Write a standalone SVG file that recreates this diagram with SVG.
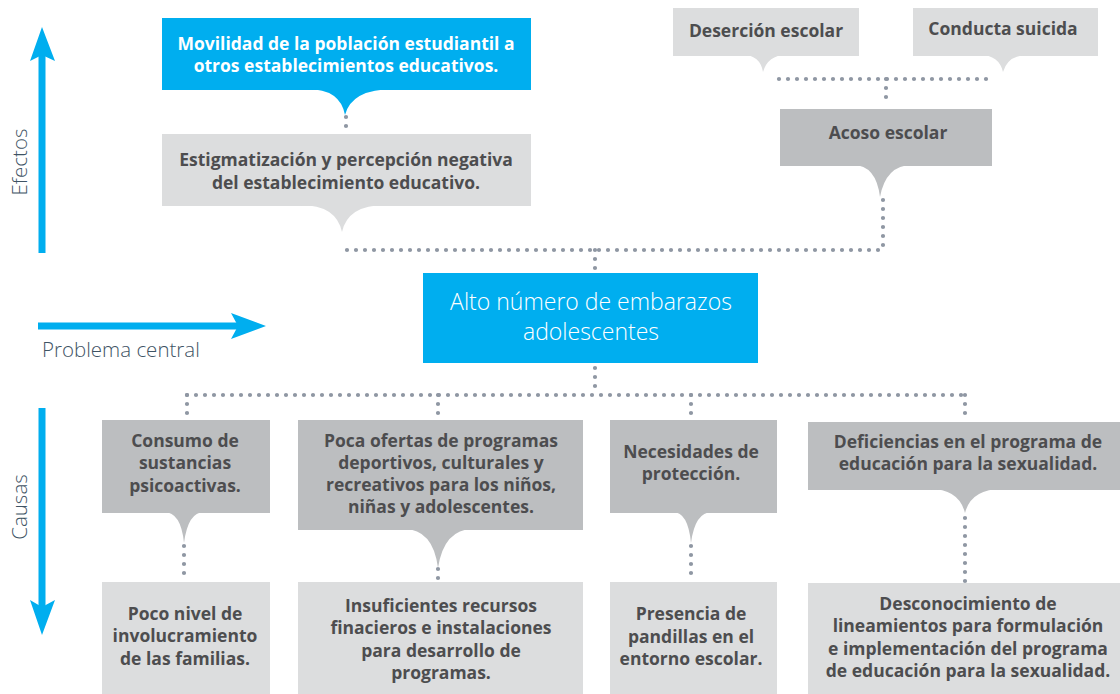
<svg xmlns="http://www.w3.org/2000/svg" width="1120" height="694" viewBox="0 0 1120 694">
<style>
.blue{fill:#00AEEF}
.lg{fill:#DCDDDE}
.dg{fill:#BCBEC0}
.t{font-family:"Open Sans","Lato","Liberation Sans",sans-serif;font-weight:700;font-size:17.5px;fill:#4D4D4F;text-anchor:middle}
.tw{fill:#FFFFFF}
.lab{font-family:"Open Sans","Lato","Liberation Sans",sans-serif;font-weight:300;font-size:20.5px;fill:#3E5364}
.ct{font-family:"Open Sans","Lato","Liberation Sans",sans-serif;font-weight:300;font-size:23px;fill:#FFFFFF;text-anchor:middle}
.dots{fill:none;stroke:#8F97A3;stroke-width:4.2;stroke-linecap:round;stroke-dasharray:0 9}
.ax{fill:none;stroke:#00AEEF;stroke-width:7}
</style>
<rect width="1120" height="694" fill="#FFFFFF"/>

<g id="axes">
  <line class="ax" x1="42" y1="253" x2="42" y2="55"/>
  <polygon fill="#00AEEF" points="42,27 55,61 42,55 30,61"/>
  <text class="lab" transform="translate(27,162) rotate(-90)" text-anchor="middle">Efectos</text>
  <line class="ax" x1="38" y1="326" x2="240" y2="326"/>
  <polygon fill="#00AEEF" points="266,326 231,313 238,326 231,339"/>
  <text class="lab" x="42" y="357">Problema central</text>
  <line class="ax" x1="42" y1="408" x2="42" y2="607"/>
  <polygon fill="#00AEEF" points="42,635 30,600 42,607 55,600"/>
  <text class="lab" transform="translate(27,507) rotate(-90)" text-anchor="middle">Causas</text>
</g>

<g id="connectors">
  <line class="dots" x1="346" y1="117" x2="346" y2="133"/>
  <line class="dots" x1="779" y1="79" x2="992" y2="79"/>
  <line class="dots" x1="886" y1="79" x2="886" y2="104"/>
  <line class="dots" x1="883" y1="200" x2="883" y2="250"/>
  <line class="dots" x1="347" y1="250" x2="883" y2="250"/>
  <line class="dots" x1="595" y1="250" x2="595" y2="271"/>
  <line class="dots" x1="595" y1="368" x2="595" y2="395"/>
  <line class="dots" x1="187" y1="395" x2="965" y2="395"/>
  <line class="dots" x1="187" y1="395" x2="187" y2="420"/>
  <line class="dots" x1="438" y1="395" x2="438" y2="420"/>
  <line class="dots" x1="691" y1="395" x2="691" y2="420"/>
  <line class="dots" x1="965" y1="395" x2="965" y2="421"/>
  <line class="dots" x1="184" y1="546" x2="184" y2="580"/>
  <line class="dots" x1="438" y1="569" x2="438" y2="580"/>
  <line class="dots" x1="691" y1="546" x2="691" y2="580"/>
  <line class="dots" x1="965" y1="518" x2="965" y2="582"/>
</g>

<g id="movilidad">
  <rect class="blue" x="162" y="18" width="369" height="72"/>
  <path class="blue" d="M305,89 Q340,88 345,115 Q352,88 397,89 Z"/>
  <text class="t tw" x="346" y="50">Movilidad de la población estudiantil a</text>
  <text class="t tw" x="346" y="72">otros establecimientos educativos.</text>
</g>

<g id="estigmatizacion">
  <rect class="lg" x="162" y="134" width="369" height="72"/>
  <path class="lg" d="M298,205 Q336,204 342,232 Q348,204 388,205 Z"/>
  <text class="t" x="346" y="166">Estigmatización y percepción negativa</text>
  <text class="t" x="346" y="189">del establecimiento educativo.</text>
</g>

<g id="desercion">
  <rect class="lg" x="673" y="8" width="186" height="48"/>
  <path class="lg" d="M743,55 Q760,55 763,72 Q768,55 786,55 Z"/>
  <text class="t" x="766" y="37">Deserción escolar</text>
</g>

<g id="conducta">
  <rect class="lg" x="913" y="8" width="185" height="48"/>
  <path class="lg" d="M980,55 Q999,55 1003,72 Q1008,55 1028,55 Z"/>
  <text class="t" x="1003" y="35">Conducta suicida</text>
</g>

<g id="acoso">
  <rect class="dg" x="780" y="109" width="212" height="57"/>
  <path class="dg" d="M853,165 Q876,165 880,197 Q886,165 912,165 Z"/>
  <text class="t" x="888" y="139">Acoso escolar</text>
</g>

<g id="central">
  <rect class="blue" x="423" y="273" width="335" height="90"/>
  <text class="ct" x="591" y="310">Alto número de embarazos</text>
  <text class="ct" x="591" y="340">adolescentes</text>
</g>

<g id="consumo">
  <rect class="dg" x="102" y="420" width="168" height="93"/>
  <path class="dg" d="M164,512 Q181,512 184,543 Q188,512 204,512 Z"/>
  <text class="t" x="185" y="447">Consumo de</text>
  <text class="t" x="185" y="469">sustancias</text>
  <text class="t" x="185" y="492">psicoactivas.</text>
</g>

<g id="pocaofertas">
  <rect class="dg" x="298" y="420" width="285" height="110"/>
  <path class="dg" d="M404,529 Q433,529 438,568 Q444,529 473,529 Z"/>
  <text class="t" x="441" y="447">Poca ofertas de programas</text>
  <text class="t" x="441" y="469">deportivos, culturales y</text>
  <text class="t" x="441" y="491">recreativos para los niños,</text>
  <text class="t" x="441" y="513">niñas y adolescentes.</text>
</g>

<g id="necesidades">
  <rect class="dg" x="610" y="420" width="167" height="93"/>
  <path class="dg" d="M673,512 Q688,512 691,543 Q695,512 712,512 Z"/>
  <text class="t" x="691" y="458">Necesidades de</text>
  <text class="t" x="691" y="480">protección.</text>
</g>

<g id="deficiencias">
  <rect class="dg" x="808" y="422" width="312" height="68"/>
  <path class="dg" d="M930,489 Q959,489 965,513 Q971,489 1002,489 Z"/>
  <text class="t" x="968" y="448">Deficiencias en el programa de</text>
  <text class="t" x="968" y="470">educación para la sexualidad.</text>
</g>

<g id="poconivel">
  <rect class="lg" x="102" y="582" width="168" height="112"/>
  <text class="t" x="185" y="620">Poco nivel de</text>
  <text class="t" x="185" y="642">involucramiento</text>
  <text class="t" x="185" y="665">de las familias.</text>
</g>

<g id="insuficientes">
  <rect class="lg" x="298" y="582" width="285" height="112"/>
  <text class="t" x="441" y="612">Insuficientes recursos</text>
  <text class="t" x="441" y="634">finacieros e instalaciones</text>
  <text class="t" x="441" y="657">para desarrollo de</text>
  <text class="t" x="441" y="679">programas.</text>
</g>

<g id="presencia">
  <rect class="lg" x="610" y="582" width="167" height="112"/>
  <text class="t" x="691" y="620">Presencia de</text>
  <text class="t" x="691" y="643">pandillas en el</text>
  <text class="t" x="691" y="665">entorno escolar.</text>
</g>

<g id="desconocimiento">
  <rect class="lg" x="808" y="583" width="312" height="111"/>
  <text class="t" x="968" y="610">Desconocimiento de</text>
  <text class="t" x="968" y="632">lineamientos para formulación</text>
  <text class="t" x="968" y="655">e implementación del programa</text>
  <text class="t" x="968" y="677">de educación para la sexualidad.</text>
</g>
</svg>
